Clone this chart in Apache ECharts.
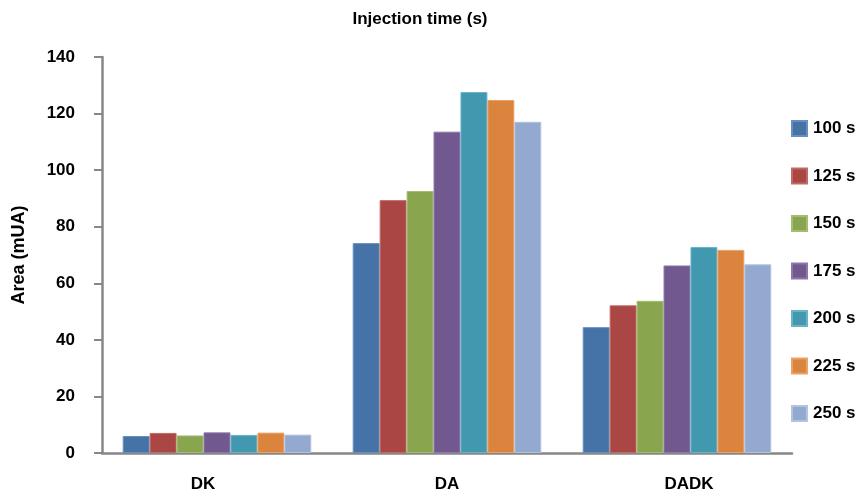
<!DOCTYPE html>
<html><head><meta charset="utf-8">
<script src="https://cdn.jsdelivr.net/npm/echarts@6/dist/echarts.min.js"></script>
<style>html,body{margin:0;padding:0;background:#fff}#c{width:860px;height:493px}</style>
</head><body><div id="c"></div>
<script>
const categories = ['DK', 'DA', 'DADK'];
const seriesNames = ['100 s', '125 s', '150 s', '175 s', '200 s', '225 s', '250 s'];
const s100 = [6.0, 74.2, 44.5];
const s125 = [7.1, 89.4, 52.2];
const s150 = [6.2, 92.6, 53.8];
const s175 = [7.3, 113.6, 66.3];
const s200 = [6.4, 127.6, 72.8];
const s225 = [7.2, 124.8, 71.8];
const s250 = [6.5, 117.1, 66.7];
const yTicks = [0, 20, 40, 60, 80, 100, 120, 140];
const colors = ['#4572A7', '#AA4643', '#89A54E', '#71588F', '#4198AF', '#DB843D', '#93A9CF'];
const borders = ['#6a8fbf', '#c06a67', '#a5bd72', '#8e78aa', '#68b3c7', '#e9a26a', '#b3c4e0'];
const allData = [s100, s125, s150, s175, s200, s225, s250];
const font = '"Liberation Sans", Arial, sans-serif';
// small horizontal nudges of the category labels as placed in the reference
const labelShift = {DK: -14, DA: 0, DADK: 12};

const chart = echarts.init(document.getElementById('c'));
chart.setOption({
  animation: false,
  color: colors,
  title: {
    text: 'Injection time (s)', left: 420, top: 11, textAlign: 'center', padding: 0,
    textStyle: {fontFamily: font, fontWeight: 'bold', fontSize: 17, color: '#000'}
  },
  legend: {
    orient: 'vertical', left: 791, top: 120, padding: 0, itemWidth: 15, itemHeight: 15, itemGap: 30.5,
    icon: 'rect', data: seriesNames,
    textStyle: {fontFamily: font, fontWeight: 'bold', fontSize: 17, color: '#000', lineHeight: 17, padding: [0, 0, 0, 1]}
  },
  grid: {left: 102, right: 68, top: 57, bottom: 40, containLabel: false, outerBoundsMode: 'none'},
  xAxis: {
    type: 'category',
    data: categories.map(c => ({value: c, textStyle: {
      padding: labelShift[c] < 0 ? [0, -2 * labelShift[c], 0, 0] : [0, 0, 0, 2 * labelShift[c]]}})),
    axisLine: {lineStyle: {color: '#878787', width: 2.5}},
    axisTick: {show: false},
    axisLabel: {fontFamily: font, fontWeight: 'bold', fontSize: 17, color: '#000', margin: 23}
  },
  yAxis: {
    type: 'value', min: 0, max: 140, interval: 20,
    name: 'Area (mUA)', nameLocation: 'middle', nameGap: 74, nameRotate: 90,
    nameTextStyle: {fontFamily: font, fontWeight: 'bold', fontSize: 18, color: '#000'},
    axisLine: {show: true, lineStyle: {color: '#878787', width: 2.5}},
    axisTick: {show: true, inside: false, length: 8, lineStyle: {color: '#878787', width: 2}},
    splitLine: {show: false},
    axisLabel: {fontFamily: font, fontWeight: 'bold', fontSize: 17, color: '#000', margin: 27,
      formatter: v => yTicks.includes(v) ? String(v) : ''}
  },
  series: allData.map((d, i) => ({
    name: seriesNames[i], type: 'bar', data: d,
    barGap: '0%', barCategoryGap: '18%',
    itemStyle: {color: colors[i], borderColor: borders[i], borderWidth: 1}
  }))
});
</script></body></html>
